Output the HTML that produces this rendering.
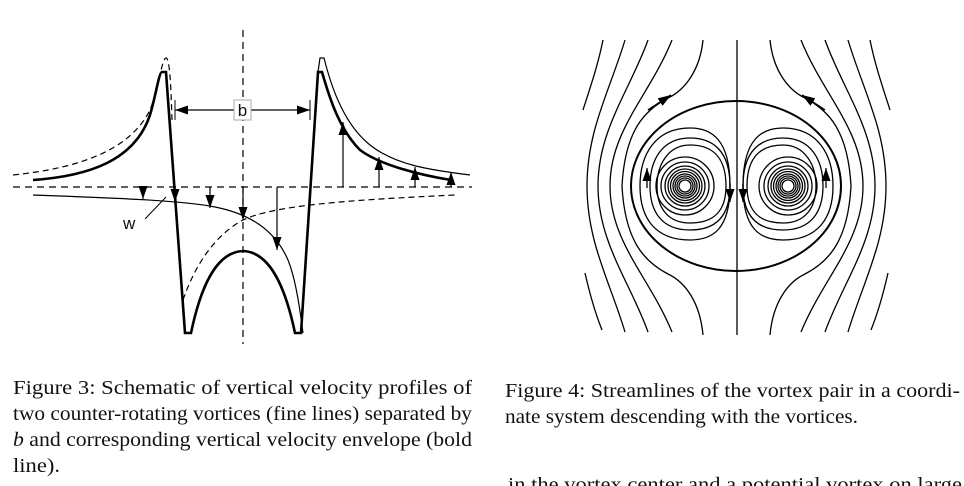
<!DOCTYPE html>
<html><head><meta charset="utf-8"><style>
html,body{margin:0;padding:0;background:#fff;}
svg{display:block;}
text{font-family:"Liberation Serif","Times New Roman",serif;font-size:20px;fill:#111;}
</style></head><body>
<svg width="964" height="486" viewBox="0 0 964 486" xmlns="http://www.w3.org/2000/svg">
<defs>
<marker id="ah" viewBox="0 0 13 9" refX="13" refY="4.5" markerWidth="13" markerHeight="9" orient="auto-start-reverse" markerUnits="userSpaceOnUse"><path d="M0,0 L13,4.5 L0,9 z" fill="#000"/></marker>
</defs>
<g fill="none" stroke="#000">
<line x1="243" y1="30" x2="243" y2="344" stroke-width="1.2" stroke-dasharray="7,5"/>
<line x1="13" y1="187" x2="472" y2="187" stroke-width="1.2" stroke-dasharray="7,5"/>
<path d="M13,175 C80,168 130,150 150,110 C158,90 162,58 166,58 C170,58 171,90 172,120" stroke-width="1.2" stroke-dasharray="6,4"/>
<path d="M33,180 C90,176 135,160 150,115 C156,95 159,72 162,72 L166,72 L185,333 L191,333 C200,290 215,252 243,251 C271,252 286,290 295,333 L301,333 L318,72 L322,72 C330,100 340,130 360,150 C380,165 420,175 451,180" stroke-width="2.6"/>
<path d="M318,72 L320,58 L324,58 C332,90 345,125 370,145 C395,165 430,170 470,175" stroke-width="1.2"/>
<path d="M33,195 C110,198 180,200 215,207 C250,214 275,230 288,260 C296,280 300,310 303,333" stroke-width="1.2"/>
<path d="M183,300 C195,265 215,235 243,220 C275,205 350,200 455,195" stroke-width="1.2" stroke-dasharray="6,4"/>
<line x1="175" y1="110" x2="235" y2="110" stroke-width="1.2" marker-start="url(#ah)"/>
<line x1="251" y1="110" x2="310" y2="110" stroke-width="1.2" marker-end="url(#ah)"/>
<line x1="175" y1="100" x2="175" y2="120" stroke-width="1"/>
<line x1="310" y1="100" x2="310" y2="120" stroke-width="1"/>
<line x1="143" y1="187" x2="143" y2="199" stroke-width="1.2" marker-end="url(#ah)"/>
<line x1="175" y1="187" x2="175" y2="202" stroke-width="1.2" marker-end="url(#ah)"/>
<line x1="210" y1="187" x2="210" y2="208" stroke-width="1.2" marker-end="url(#ah)"/>
<line x1="243" y1="187" x2="243" y2="220" stroke-width="1.2" marker-end="url(#ah)"/>
<line x1="277" y1="187" x2="277" y2="250" stroke-width="1.2" marker-end="url(#ah)"/>
<line x1="343" y1="187" x2="343" y2="122" stroke-width="1.2" marker-end="url(#ah)"/>
<line x1="379" y1="187" x2="379" y2="157" stroke-width="1.2" marker-end="url(#ah)"/>
<line x1="415" y1="187" x2="415" y2="167" stroke-width="1.2" marker-end="url(#ah)"/>
<line x1="451" y1="187" x2="451" y2="172" stroke-width="1.2" marker-end="url(#ah)"/>
<line x1="145" y1="219" x2="166" y2="197" stroke-width="1"/>
</g>
<rect x="234" y="100" width="17" height="20" fill="#fff" stroke="#aaa" stroke-width="1"/>
<text x="242.5" y="116" text-anchor="middle" style="font-family:'Liberation Sans',sans-serif;font-size:17px">b</text>
<text x="123" y="229" style="font-family:'Liberation Sans',sans-serif;font-size:17px">w</text>

<g fill="none" stroke="#000" stroke-width="1.3">
<line x1="737" y1="40" x2="737" y2="335"/>
<ellipse cx="736" cy="186" rx="105" ry="85" stroke-width="2"/>
<g id="L">
<circle cx="685" cy="186" r="6"/><circle cx="685" cy="186" r="8"/><circle cx="685" cy="186" r="10"/>
<circle cx="685" cy="186" r="12"/><circle cx="685" cy="186" r="14.5"/><circle cx="685" cy="186" r="17"/>
<circle cx="685" cy="186" r="20"/><circle cx="685" cy="186" r="24"/><circle cx="685" cy="186" r="29"/>
<path d="M730,186 C730,150 712,138 690,138 C662,138 650,160 650,186 C650,212 662,230 690,230 C712,230 730,220 730,186"/>
<path d="M730,186 C730,140 712,128 690,128 C655,128 640,155 640,186 C640,218 655,240 690,240 C712,240 730,230 730,186"/>
<path d="M726,186 C726,155 710,145 690,145 C668,145 657,165 657,186 C657,208 668,223 690,223 C710,223 726,215 726,186"/>
<line x1="647" y1="188" x2="647" y2="168" marker-end="url(#ah)"/>
<line x1="730" y1="184" x2="730" y2="202" marker-end="url(#ah)"/>
<path d="M603,40 C598,65 590,88 583,110"/>
<path d="M585,273 C590,295 596,315 602,330"/>
<path d="M625,40 C610,90 587,130 587,186 C587,242 610,282 625,332"/>
<path d="M648,40 C630,90 598,130 598,186 C598,242 630,282 648,332"/>
<path d="M672,40 C650,95 610,130 610,186 C610,242 650,278 672,332"/>
<path d="M703,40 C700,70 685,90 668,98 C645,110 625,130 622,186 C625,242 645,262 668,274 C685,282 700,302 703,335"/>
<line x1="648" y1="110" x2="671" y2="95" stroke-width="1.6" marker-end="url(#ah)"/>
</g>
<use href="#L" transform="translate(1473,0) scale(-1,1)"/>
</g>

<text x="13" y="394" textLength="459" lengthAdjust="spacingAndGlyphs">Figure 3: Schematic of vertical velocity profiles of</text>
<text x="13" y="420" textLength="459" lengthAdjust="spacingAndGlyphs">two counter-rotating vortices (fine lines) separated by</text>
<text x="13" y="446" textLength="459" lengthAdjust="spacingAndGlyphs"><tspan font-style="italic">b</tspan> and corresponding vertical velocity envelope (bold</text>
<text x="13" y="472" textLength="47" lengthAdjust="spacingAndGlyphs">line).</text>
<text x="505" y="397" textLength="455" lengthAdjust="spacingAndGlyphs">Figure 4: Streamlines of the vortex pair in a coordi-</text>
<text x="505" y="423" textLength="353" lengthAdjust="spacingAndGlyphs">nate system descending with the vortices.</text>
<text x="508" y="491" textLength="454" lengthAdjust="spacingAndGlyphs">in the vortex center and a potential vortex on large</text>
</svg>
</body></html>
